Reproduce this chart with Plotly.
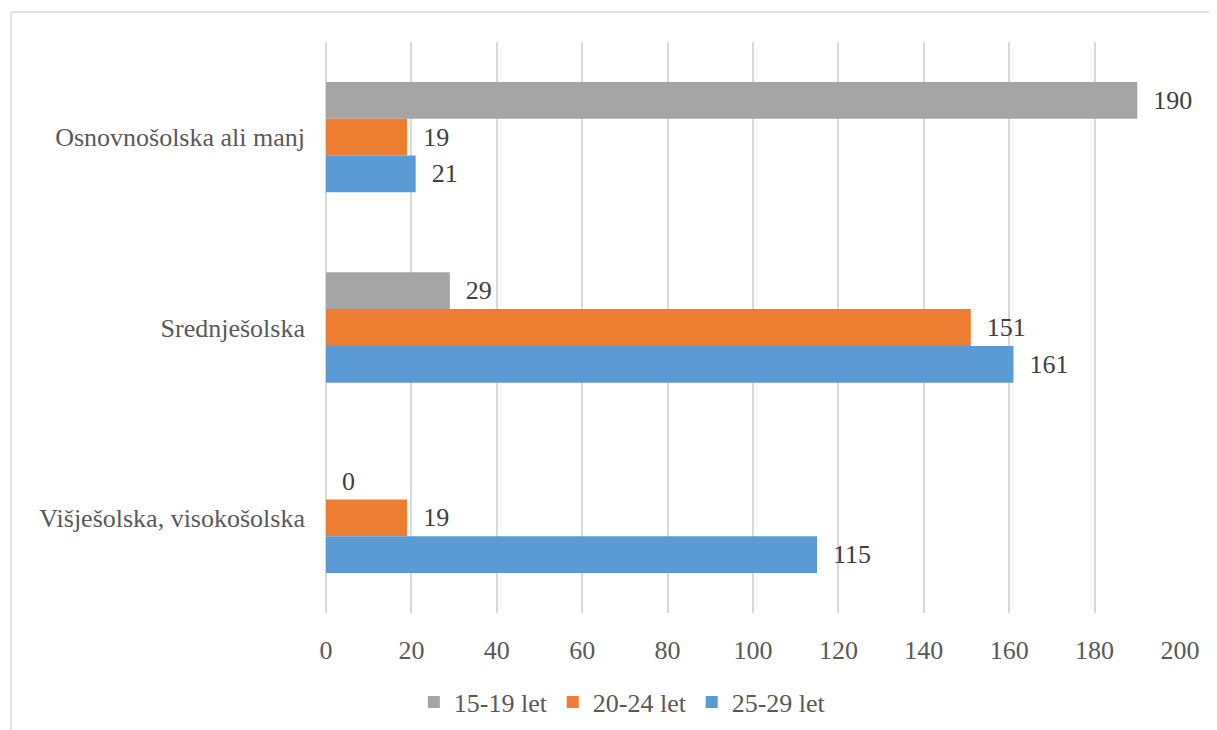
import plotly.graph_objects as go

categories = ["Osnovnošolska ali manj", "Srednješolska", "Višješolska, visokošolska"]
series_names = ["15-19 let", "20-24 let", "25-29 let"]
values_15_19 = [190, 29, 0]
values_20_24 = [19, 151, 19]
values_25_29 = [21, 161, 115]
x_ticks = [0, 20, 40, 60, 80, 100, 120, 140, 160, 180, 200]

colors = ["#A5A5A5", "#ED7D31", "#5B9BD5"]
FONT = "Liberation Serif, Times New Roman, serif"

fig = go.Figure()
for name, vals, col in zip(series_names, [values_15_19, values_20_24, values_25_29], colors):
    fig.add_trace(go.Bar(
        y=categories, x=vals, name=name, orientation="h",
        marker=dict(color=col, line=dict(width=0)),
        text=vals, texttemplate="\u00a0\u00a0%{x}", textposition="outside",
        textfont=dict(family=FONT, size=26, color="#404040"),
        constraintext="none", cliponaxis=False,
    ))

fig.update_layout(
    width=1209, height=722,
    margin=dict(l=318, r=37, t=34, b=117, autoexpand=False),
    barmode="group", bargap=0.42, bargroupgap=0,
    plot_bgcolor="white", paper_bgcolor="white",
    font=dict(family=FONT, size=26, color="#595959"),
    showlegend=True,
    legend=dict(orientation="h", x=0.347, xanchor="center", y=-0.156, yanchor="middle",
                font=dict(family=FONT, size=26, color="#595959"),
                itemwidth=30, traceorder="normal"),
    xaxis=dict(range=[0, 200], tickvals=x_ticks, showgrid=True, gridcolor="#D9D9D9",
               gridwidth=1.5, zeroline=True, zerolinecolor="#D9D9D9", zerolinewidth=1.5,
               showline=False, ticks="", ticklabelstandoff=19, automargin=False,
               tickfont=dict(family=FONT, size=26, color="#595959")),
    yaxis=dict(autorange="reversed", showgrid=False, showline=False, ticks="",
               ticklabelstandoff=20, automargin=False,
               tickfont=dict(family=FONT, size=26, color="#595959")),
    shapes=[
        dict(type="line", xref="paper", yref="paper", x0=-0.3689, x1=1.1, y0=1.0525, y1=1.0525,
             line=dict(color="#D9D9D9", width=1.5)),
        dict(type="line", xref="paper", yref="paper", x0=-0.3689, x1=-0.3689, y0=1.0525, y1=-0.3,
             line=dict(color="#D9D9D9", width=1.5)),
    ],
)

fig.write_html("out.html")
